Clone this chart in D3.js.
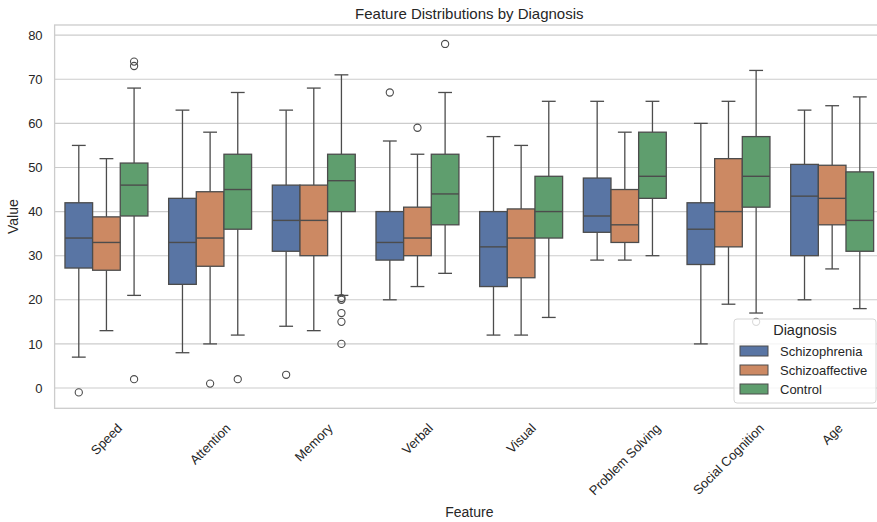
<!DOCTYPE html>
<html>
<head>
<meta charset="utf-8">
<script src="https://cdn.jsdelivr.net/npm/d3@7"></script>
<style>
    body { margin: 0; background: #fff; }
    svg { display: block; font-family: "Liberation Sans", Arial, sans-serif; }
</style>
</head>
<body>
<div id="chart"></div>
<script>

// categories
var features = ["Speed", "Attention", "Memory", "Verbal", "Visual", "Problem Solving", "Social Cognition", "Age"];
var diagnoses = ["Schizophrenia", "Schizoaffective", "Control"];
var colors = ["#5975a4", "#cc8963", "#5f9e6e"];
var yTicks = [0, 10, 20, 30, 40, 50, 60, 70, 80];

// box stats per feature: [lower whisker, q1, median, q3, upper whisker]
var schizophreniaStats = [
    [7, 27.2, 34, 42, 55],
    [8, 23.5, 33, 43, 63],
    [14, 31, 38, 46, 63],
    [20, 29, 33, 40, 56],
    [12, 23, 32, 40, 57],
    [29, 35.3, 39, 47.6, 65],
    [10, 28, 36, 42, 60],
    [20, 30, 43.5, 50.7, 63]
];
var schizoaffectiveStats = [
    [13, 26.7, 33, 38.8, 52],
    [10, 27.6, 34, 44.5, 58],
    [13, 30, 38, 46, 68],
    [23, 30, 34, 41, 53],
    [12, 25, 34, 40.6, 55],
    [29, 33, 37, 45, 58],
    [19, 32, 40, 52, 65],
    [27, 37, 43, 50.5, 64]
];
var controlStats = [
    [21, 39, 46, 51, 68],
    [12, 36, 45, 53, 67],
    [21, 40, 47, 53, 71],
    [26, 37, 44, 53, 67],
    [16, 34, 40, 48, 65],
    [30, 43, 48, 58, 65],
    [17, 41, 48, 57, 72],
    [18, 31, 38, 49, 66]
];

// outliers per feature
var schizophreniaOutliers = [[-1], [], [3], [67], [], [], [], []];
var schizoaffectiveOutliers = [[], [1], [], [59], [], [], [], []];
var controlOutliers = [[74, 73, 2], [2], [20, 20.4, 17, 15, 10], [78], [], [], [15], []];

var allStats = [schizophreniaStats, schizoaffectiveStats, controlStats];
var allOutliers = [schizophreniaOutliers, schizoaffectiveOutliers, controlOutliers];

var width = 877, height = 522;
var margin = {top: 25, left: 54.6, right: 884, bottom: 408.3};
var lineColor = "#4c4c4c";
var textColor = "#262626";
var gridColor = "#cccccc";

var svg = d3.select("#chart").append("svg")
    .attr("width", width)
    .attr("height", height);

var x = d3.scaleBand()
    .domain(features)
    .range([margin.left, margin.right])
    .padding(0);

var xHue = d3.scaleBand()
    .domain(diagnoses)
    .range([0, x.bandwidth() * 0.8])
    .padding(0);

var y = d3.scaleLinear()
    .domain([-4.6, 82.3])
    .range([margin.bottom, margin.top]);

// grid
svg.append("g").selectAll("line")
    .data(yTicks)
    .enter().append("line")
    .attr("x1", margin.left)
    .attr("x2", margin.right)
    .attr("y1", d => y(d))
    .attr("y2", d => y(d))
    .attr("stroke", gridColor)
    .attr("stroke-width", 1.1);

// frame
svg.append("rect")
    .attr("x", margin.left)
    .attr("y", margin.top)
    .attr("width", margin.right - margin.left)
    .attr("height", margin.bottom - margin.top)
    .attr("fill", "none")
    .attr("stroke", gridColor)
    .attr("stroke-width", 1.3);

// y axis
var yAxis = svg.append("g")
    .attr("transform", "translate(" + margin.left + ",0)")
    .call(d3.axisLeft(y).tickValues(yTicks).tickSize(0).tickPadding(12));
yAxis.select(".domain").remove();
yAxis.selectAll("text")
    .attr("fill", textColor)
    .attr("font-size", "13px")
    .attr("font-family", "Liberation Sans, Arial, sans-serif");

// boxes
var groups = svg.append("g").selectAll("g")
    .data(features)
    .enter().append("g")
    .attr("transform", d => "translate(" + (x(d) + x.bandwidth() * 0.1) + ",0)");

groups.each(function(feature, fi) {
    var g = d3.select(this);
    diagnoses.forEach(function(diag, di) {
        var s = allStats[di][fi];
        var bx = xHue(diag);
        var bw = xHue.bandwidth();
        var cx = bx + bw / 2;

        // whiskers
        g.append("line")
            .attr("x1", cx).attr("x2", cx)
            .attr("y1", y(s[3])).attr("y2", y(s[4]))
            .attr("stroke", lineColor).attr("stroke-width", 1.3);
        g.append("line")
            .attr("x1", cx).attr("x2", cx)
            .attr("y1", y(s[1])).attr("y2", y(s[0]))
            .attr("stroke", lineColor).attr("stroke-width", 1.3);
        // caps
        [s[0], s[4]].forEach(function(v) {
            g.append("line")
                .attr("x1", cx - bw / 4).attr("x2", cx + bw / 4)
                .attr("y1", y(v)).attr("y2", y(v))
                .attr("stroke", lineColor).attr("stroke-width", 1.3);
        });
        // box
        g.append("rect")
            .attr("x", bx)
            .attr("width", bw)
            .attr("y", y(s[3]))
            .attr("height", y(s[1]) - y(s[3]))
            .attr("fill", colors[di])
            .attr("stroke", lineColor)
            .attr("stroke-width", 1.3);
        // median
        g.append("line")
            .attr("x1", bx).attr("x2", bx + bw)
            .attr("y1", y(s[2])).attr("y2", y(s[2]))
            .attr("stroke", lineColor).attr("stroke-width", 1.4);
        // outliers
        g.selectAll(null)
            .data(allOutliers[di][fi])
            .enter().append("circle")
            .attr("cx", cx)
            .attr("cy", d => y(d))
            .attr("r", 3.6)
            .attr("fill", "none")
            .attr("stroke", lineColor)
            .attr("stroke-width", 1.1);
    });
});

// x tick labels, rotated 45 and centred under the tick
var xLabels = svg.append("g").selectAll("text")
    .data(features)
    .enter().append("text")
    .text(d => d)
    .attr("font-size", "13px")
    .attr("fill", textColor)
    .attr("text-anchor", "middle")
    .attr("dominant-baseline", "central");

xLabels.each(function(d) {
    var len = this.getComputedTextLength();
    var cx = x(d) + x.bandwidth() / 2;
    var cy = 422 + (len + 11) * Math.SQRT1_2 / 2;
    d3.select(this).attr("transform", "translate(" + cx + "," + cy + ") rotate(-45)");
});

// title and axis labels
svg.append("text")
    .text("Feature Distributions by Diagnosis")
    .attr("x", (margin.left + margin.right) / 2)
    .attr("y", 19)
    .attr("text-anchor", "middle")
    .attr("font-size", "15px")
    .attr("fill", textColor);

svg.append("text")
    .text("Feature")
    .attr("x", (margin.left + margin.right) / 2)
    .attr("y", 517)
    .attr("text-anchor", "middle")
    .attr("font-size", "14px")
    .attr("fill", textColor);

svg.append("text")
    .text("Value")
    .attr("transform", "translate(18," + ((margin.top + margin.bottom) / 2) + ") rotate(-90)")
    .attr("text-anchor", "middle")
    .attr("font-size", "14px")
    .attr("fill", textColor);

// legend
var legend = svg.append("g").attr("transform", "translate(734,319)");
legend.append("rect")
    .attr("width", 142)
    .attr("height", 84)
    .attr("rx", 3)
    .attr("fill", "#ffffff")
    .attr("fill-opacity", 0.8)
    .attr("stroke", "#d6d6d6")
    .attr("stroke-width", 1);
legend.append("text")
    .text("Diagnosis")
    .attr("x", 71)
    .attr("y", 16)
    .attr("text-anchor", "middle")
    .attr("font-size", "14.5px")
    .attr("fill", textColor);

var items = legend.selectAll(".item")
    .data(diagnoses)
    .enter().append("g")
    .attr("class", "item")
    .attr("transform", (d, i) => "translate(0," + (32 + i * 19) + ")");
items.append("rect")
    .attr("x", 6)
    .attr("y", -5)
    .attr("width", 28)
    .attr("height", 10)
    .attr("fill", (d, i) => colors[i])
    .attr("stroke", lineColor)
    .attr("stroke-width", 1);
items.append("text")
    .text(d => d)
    .attr("x", 46)
    .attr("y", 0)
    .attr("dominant-baseline", "central")
    .attr("font-size", "13px")
    .attr("fill", textColor);

</script>
</body>
</html>
